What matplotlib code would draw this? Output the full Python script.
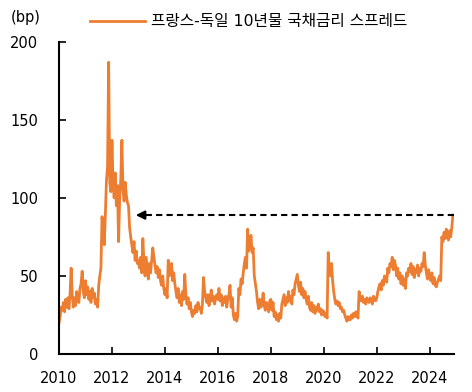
import matplotlib
matplotlib.use('Agg')
import matplotlib.pyplot as plt
import numpy as np

plt.rcParams['font.family'] = ['DejaVu Sans', 'Noto Sans CJK KR']

# semi-monthly readings of the France-Germany 10y spread (bp)
spread = {
    2010: [20, 24, 30, 28, 33, 27, 35, 30, 36, 29, 38, 55, 38, 30, 36, 31, 40, 35, 33, 42, 45, 53, 40, 36],
    2011: [47, 38, 43, 35, 40, 33, 42, 36, 39, 32, 35, 30, 44, 50, 55, 88, 80, 70, 89, 111, 120, 187, 110, 104],
    2012: [137, 110, 100, 116, 95, 108, 72, 100, 112, 137, 105, 98, 110, 102, 97, 95, 81, 75, 70, 65, 72, 60, 66, 58],
    2013: [60, 55, 62, 52, 74, 58, 50, 62, 55, 48, 58, 52, 60, 68, 62, 57, 52, 56, 49, 54, 47, 44, 50, 42],
    2014: [38, 42, 36, 60, 50, 55, 58, 47, 52, 45, 40, 36, 42, 33, 38, 31, 40, 35, 51, 38, 32, 36, 29, 33],
    2015: [27, 24, 28, 26, 31, 27, 33, 29, 30, 26, 32, 49, 40, 36, 33, 38, 31, 35, 41, 34, 37, 32, 36, 38],
    2016: [35, 42, 34, 38, 31, 36, 33, 37, 30, 35, 38, 44, 30, 36, 25, 22, 26, 21, 24, 42, 38, 48, 45, 52],
    2017: [58, 62, 55, 80, 66, 72, 76, 65, 68, 50, 45, 40, 33, 29, 35, 30, 32, 39, 31, 28, 33, 30, 27, 34],
    2018: [35, 28, 33, 24, 27, 22, 25, 21, 26, 23, 32, 35, 38, 31, 36, 33, 40, 34, 37, 32, 41, 38, 45, 48],
    2019: [51, 44, 40, 46, 38, 42, 36, 40, 35, 32, 37, 30, 28, 33, 27, 31, 26, 30, 28, 32, 27, 29, 25, 28],
    2020: [27, 24, 26, 23, 65, 55, 50, 58, 47, 40, 35, 32, 34, 31, 33, 29, 30, 27, 28, 25, 23, 21, 24, 22],
    2021: [22, 25, 23, 26, 24, 27, 25, 23, 40, 36, 34, 37, 33, 35, 32, 36, 34, 33, 36, 35, 32, 37, 35, 34],
    2022: [36, 40, 43, 45, 41, 47, 44, 50, 48, 46, 55, 52, 58, 56, 62, 54, 60, 57, 50, 55, 48, 52, 45, 50],
    2023: [44, 48, 42, 52, 50, 55, 53, 58, 51, 56, 49, 54, 52, 57, 50, 55, 53, 58, 56, 65, 57, 52, 48, 54],
    2024: [50, 47, 52, 45, 49, 44, 43, 46, 48, 50, 47, 75, 72, 78, 74, 80, 76, 73, 79, 75, 81, 89],
}
label = '프랑스-독일 10년물 국채금리 스프레드'
year_ticks = list(range(2010, 2025, 2))
y_ticks = [0, 50, 100, 150, 200]
arrow_level = 89
arrow_start = 2024.9
arrow_end = 2012.9

x = []
y = []
for yr in sorted(spread):
    for i, v in enumerate(spread[yr]):
        x.append(yr + i / 24)
        y.append(v)

orange = '#ED7D31'
fig = plt.figure(figsize=(4.72, 3.92), dpi=100)
ax = fig.add_axes([0.125, 0.097, 0.837, 0.796])
ax.plot(x, y, color=orange, lw=2.0, label=label)

ax.plot([arrow_start, arrow_end + 0.35], [arrow_level, arrow_level], color='black',
        lw=1.5, ls=(0, (3, 2)))
ax.annotate('', xy=(arrow_end, arrow_level), xytext=(arrow_end + 0.4, arrow_level),
            arrowprops=dict(arrowstyle='-|>', color='black', lw=1.5,
                            mutation_scale=13, shrinkA=0, shrinkB=0))

ax.set_xlim(2010, 2024.92)
ax.set_ylim(0, 200)
ax.set_xticks(year_ticks)
ax.set_yticks(y_ticks)
for s in ['top', 'right']:
    ax.spines[s].set_visible(False)
for s in ['left', 'bottom']:
    ax.spines[s].set_linewidth(1.5)
ax.tick_params(direction='in', length=5, width=1.2, labelsize=10.5)
ax.tick_params(axis='y', pad=15)
ax.tick_params(axis='x', pad=12)

fig.text(0.022, 0.955, '(bp)', fontsize=10.5, va='center', ha='left')
fig.legend(loc='center left', bbox_to_anchor=(0.19, 0.944), frameon=False,
           fontsize=11.3, handlelength=3.5, handletextpad=0.4, borderpad=0,
           borderaxespad=0)

fig.savefig('out.png', dpi=100)
